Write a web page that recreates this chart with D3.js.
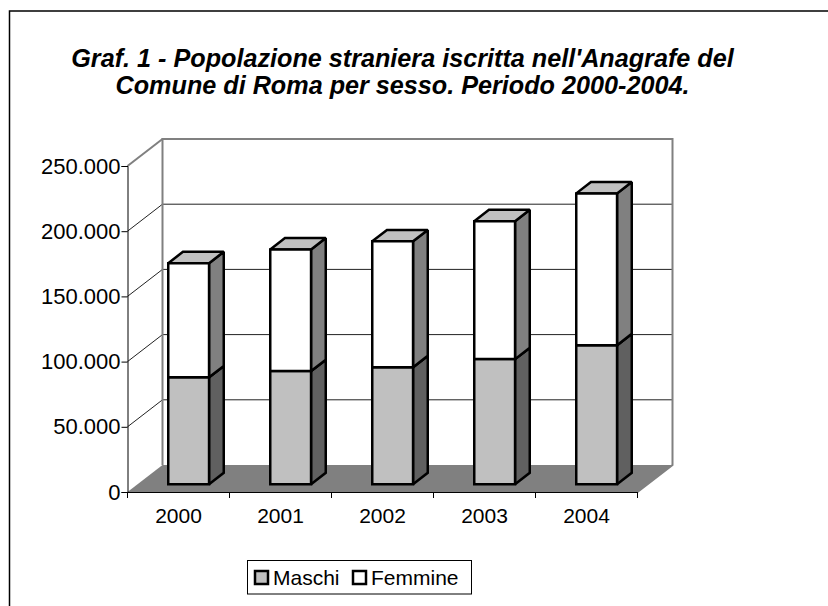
<!DOCTYPE html>
<meta charset="utf-8">
<style>
  html, body { margin: 0; padding: 0; background: #fff; }
  svg { display: block; }
  text { font-family: "Liberation Sans", Arial, sans-serif; fill: #000; }
</style>
<body>
<div id="chart"></div>
<script src="https://d3js.org/d3.v7.min.js"></script>
<script>

var years = ["2000", "2001", "2002", "2003", "2004"];
var maschi = [82000, 86700, 89700, 95900, 106600];
var femmine = [87500, 93300, 96600, 105800, 116400];
var yTicks = [0, 50000, 100000, 150000, 200000, 250000];
var titleLines = [
  "Graf. 1 - Popolazione straniera iscritta nell'Anagrafe del",
  "Comune di Roma per sesso. Periodo 2000-2004."
];
var legendLabels = ["Maschi", "Femmine"];

var width = 828, height = 606;

var svg = d3.select("#chart")
  .append("svg")
    .attr("width", width)
    .attr("height", height);

var x = d3.scaleBand()
  .domain(years)
  .range([127.5, 637.5])
  .paddingInner(0.6)
  .paddingOuter(0.3);

var y = d3.scaleLinear()
  .domain([0, 250000])
  .range([492, 166]);

// oblique depth of the 3d box, z goes from 0 (front) to 1 (back wall)
var depthX = 35, depthY = -27;
var barFront = 0.29, barBack = 0.71;

function pt(px, value, z) {
  return [px + depthX * z, y(value) + depthY * z];
}

var line = d3.line();
function poly(points) { return line(points) + "Z"; }

var locale = d3.formatLocale({ decimal: ",", thousands: ".", grouping: [3], currency: ["", ""] });

// outer frame, only left and top are visible in the cropped original
svg.append("path")
  .attr("d", line([[9.5, height], [9.5, 11], [width, 11]]))
  .attr("fill", "none")
  .attr("stroke", "#000")
  .attr("stroke-width", 1.5);

// title
svg.append("g").selectAll("text")
  .data(titleLines)
  .enter()
  .append("text")
    .attr("x", 402.5)
    .attr("y", function (d, i) { return 67 + i * 27; })
    .attr("text-anchor", "middle")
    .style("font-size", "25.2px")
    .style("font-weight", "bold")
    .style("font-style", "italic")
    .text(function (d) { return d; });

var left = x.range()[0], right = x.range()[1];

// floor
svg.append("path")
  .attr("d", poly([pt(left, 0, 0), pt(right, 0, 0), pt(right, 0, 1), pt(left, 0, 1)]))
  .attr("fill", "#808080");

// gridlines on the back wall and the left side
svg.append("g").selectAll("path")
  .data(yTicks.slice(1, -1))
  .enter()
  .append("path")
    .attr("d", function (d) { return line([pt(left, d, 0), pt(left, d, 1), pt(right, d, 1)]); })
    .attr("fill", "none")
    .attr("stroke", "#222")
    .attr("stroke-width", 1);

// back wall edges
svg.append("path")
  .attr("d", line([pt(left, 0, 1), pt(left, 250000, 1), pt(right, 250000, 1), pt(right, 0, 1), pt(right, 0, 0)]))
  .attr("fill", "none")
  .attr("stroke", "#808080")
  .attr("stroke-width", 2);
svg.append("path")
  .attr("d", line([pt(left, 250000, 0), pt(left, 250000, 1)]))
  .attr("fill", "none")
  .attr("stroke", "#808080")
  .attr("stroke-width", 2);

// stacked 3d bars
var stacked = years.map(function (yr, i) {
  return [
    { year: yr, y0: 0, y1: maschi[i], front: "#c0c0c0", side: "#606060" },
    { year: yr, y0: maschi[i], y1: maschi[i] + femmine[i], front: "#ffffff", side: "#808080" }
  ];
});

var bars = svg.append("g")
  .selectAll("g")
  .data(stacked)
  .enter()
  .append("g");

var segs = bars.selectAll("g")
  .data(function (d) { return d; })
  .enter()
  .append("g")
    .attr("stroke", "#000")
    .attr("stroke-width", 2.5)
    .attr("stroke-linejoin", "miter")
    .attr("stroke-miterlimit", 2);

segs.append("path")
  .attr("fill", function (d) { return d.side; })
  .attr("d", function (d) {
    var r = x(d.year) + x.bandwidth();
    return poly([pt(r, d.y0, barFront), pt(r, d.y0, barBack), pt(r, d.y1, barBack), pt(r, d.y1, barFront)]);
  });

segs.append("path")
  .attr("fill", "#c0c0c0")
  .attr("d", function (d) {
    var l = x(d.year), r = l + x.bandwidth();
    return poly([pt(l, d.y1, barFront), pt(r, d.y1, barFront), pt(r, d.y1, barBack), pt(l, d.y1, barBack)]);
  });

segs.append("path")
  .attr("fill", function (d) { return d.front; })
  .attr("d", function (d) {
    var l = x(d.year), r = l + x.bandwidth();
    return poly([pt(l, d.y0, barFront), pt(r, d.y0, barFront), pt(r, d.y1, barFront), pt(l, d.y1, barFront)]);
  });

// axes
var yAxis = svg.append("g")
  .attr("transform", "translate(" + left + ",0)")
  .call(d3.axisLeft(y).tickValues(yTicks).tickSize(6).tickPadding(1).tickFormat(locale.format(",d")));

var xAxis = svg.append("g")
  .attr("transform", "translate(0," + y(0) + ")")
  .call(d3.axisBottom(x).tickSize(0).tickPadding(16));

xAxis.selectAll(".tick text").attr("dy", "0.71em");

// category separators, the band axis puts its ticks in the middle so add them here
xAxis.append("g").selectAll("line")
  .data(d3.range(years.length + 1))
  .enter()
  .append("line")
    .attr("x1", function (d) { return left + d * x.step(); })
    .attr("x2", function (d) { return left + d * x.step(); })
    .attr("y1", 0)
    .attr("y2", 6)
    .attr("stroke", "#000");

svg.selectAll(".domain").attr("stroke", "#000");
yAxis.selectAll("text").style("font-size", "22px").style("font-family", '"Liberation Sans", Arial, sans-serif');
xAxis.selectAll("text").style("font-size", "21px").style("font-family", '"Liberation Sans", Arial, sans-serif');

// legend
var legend = svg.append("g");
legend.append("rect")
  .attr("x", 247.5)
  .attr("y", 560.5)
  .attr("width", 224)
  .attr("height", 33.5)
  .attr("fill", "#fff")
  .attr("stroke", "#000")
  .attr("stroke-width", 1);

var legendX = [254, 352];
var legendFill = ["#c0c0c0", "#ffffff"];
legendLabels.forEach(function (name, i) {
  legend.append("rect")
    .attr("x", legendX[i] + 1)
    .attr("y", 571)
    .attr("width", 13)
    .attr("height", 13)
    .attr("fill", legendFill[i])
    .attr("stroke", "#000")
    .attr("stroke-width", 2.5);
  legend.append("text")
    .attr("x", legendX[i] + 19)
    .attr("y", 585)
    .style("font-size", "21px")
    .text(name);
});

</script>
</body>
